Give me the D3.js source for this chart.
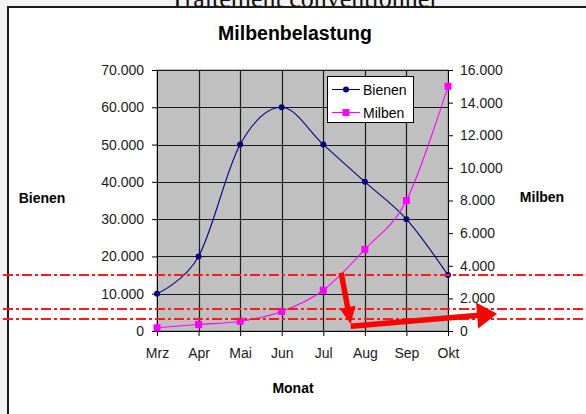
<!DOCTYPE html>
<html><head><meta charset="utf-8">
<script src="https://cdn.jsdelivr.net/npm/d3@7/dist/d3.min.js"></script>
<style>
html,body{margin:0;padding:0;background:#f3f3f3;overflow:hidden;}
svg{display:block;}
text{font-family:"Liberation Sans",Arial,sans-serif;}
</style></head>
<body>
<svg id="c" width="586" height="414"></svg>
<script>
const months = ["Mrz","Apr","Mai","Jun","Jul","Aug","Sep","Okt"];
const bienen = [10000,20000,50000,60000,50000,40000,30000,15000];
const milben = [200,400,600,1200,2500,5000,8000,15000];
const leftTicks = [0,10000,20000,30000,40000,50000,60000,70000];
const rightTicks = [0,2000,4000,6000,8000,10000,12000,14000,16000];
// annotation overlay (data units: category index, Bienen axis)
const refLines = [15000, 5900, 3200];
const arrow1 = [[4.43,15600],[4.66,1900]];
const arrow2 = [[4.66,1300],[8.18,4600]];

const svg = d3.select("#c");
const L=157, R=448, T=70, B=331;
const x = d3.scalePoint().domain(months).range([L,R]);
const yL = d3.scaleLinear().domain([0,70000]).range([B,T]);
const yR = d3.scaleLinear().domain([0,16000]).range([B,T]);
const xi = d3.scaleLinear().domain([0,7]).range([L,R]);
const fmt = v => d3.format(",")(v).replace(/,/g,".");

// cut-off heading behind frame
svg.append("text").attr("x",303).attr("y",7).attr("text-anchor","middle")
  .style("font-family","'Liberation Serif','Times New Roman',serif").style("font-size","26px")
  .attr("fill","#111").text("Traitement conventionnel");
// frame
svg.append("rect").attr("x",8).attr("y",7).attr("width",620).attr("height",440)
  .attr("fill","#fff").attr("stroke","#1a1a1a").attr("stroke-width",2);

// title
svg.append("text").attr("x",295).attr("y",40).attr("text-anchor","middle")
  .style("font-weight","bold").style("font-size","19.5px").attr("fill","#000").text("Milbenbelastung");

// plot area
svg.append("rect").attr("x",L).attr("y",T).attr("width",R-L).attr("height",B-T)
  .attr("fill","#c0c0c0").attr("stroke","#808080").attr("stroke-width",1);

// grid
const g = svg.append("g");
g.selectAll(".hg").data(leftTicks.slice(1)).join("line")
  .attr("x1",L).attr("x2",R).attr("y1",d=>Math.round(yL(d))+0.5).attr("y2",d=>Math.round(yL(d))+0.5)
  .attr("stroke","#1a1a1a").attr("stroke-width",1.2);
g.selectAll(".vg").data(months.slice(1,-1)).join("line")
  .attr("y1",T).attr("y2",B).attr("x1",d=>Math.round(x(d))+0.5).attr("x2",d=>Math.round(x(d))+0.5)
  .attr("stroke","#1a1a1a").attr("stroke-width",1.2);

// axes
const axL = svg.append("g").attr("transform",`translate(${L},0)`)
  .call(d3.axisLeft(yL).tickValues(leftTicks).tickFormat(fmt).tickSizeOuter(0).tickSize(5).tickPadding(8));
const axR = svg.append("g").attr("transform",`translate(${R},0)`)
  .call(d3.axisRight(yR).tickValues(rightTicks).tickFormat(fmt).tickSizeOuter(0).tickSize(5).tickPadding(7));
const axB = svg.append("g").attr("transform",`translate(0,${B})`)
  .call(d3.axisBottom(x).tickSizeOuter(0).tickSize(5).tickPadding(12));
[axL,axR,axB].forEach(a=>{
  a.selectAll("text").style("font-size","14px").attr("fill","#1a1a1a").style("font-family","'Liberation Sans',Arial,sans-serif");
  a.selectAll("line,path").attr("stroke","#000");
});

// axis titles
svg.append("text").attr("x",42).attr("y",203).attr("text-anchor","middle")
  .style("font-weight","bold").style("font-size","14px").text("Bienen");
svg.append("text").attr("x",542).attr("y",202).attr("text-anchor","middle")
  .style("font-weight","bold").style("font-size","14px").text("Milben");
svg.append("text").attr("x",293).attr("y",393).attr("text-anchor","middle")
  .style("font-weight","bold").style("font-size","14px").text("Monat");

// lines
const curve = d3.curveCardinal.tension(0);
const lineB = d3.line().x((d,i)=>x(months[i])).y(d=>yL(d)).curve(curve);
const lineM = d3.line().x((d,i)=>x(months[i])).y(d=>yR(d)).curve(curve);
svg.append("path").attr("d",lineB(bienen)).attr("fill","none").attr("stroke","#000080").attr("stroke-width",1.1);
svg.append("path").attr("d",lineM(milben)).attr("fill","none").attr("stroke","#ff00ff").attr("stroke-width",1.1);
svg.selectAll(".mb").data(bienen).join("circle")
  .attr("cx",(d,i)=>x(months[i])).attr("cy",d=>yL(d)).attr("r",3).attr("fill","#000080");
svg.selectAll(".mm").data(milben).join("rect")
  .attr("x",(d,i)=>x(months[i])-3.5).attr("y",d=>yR(d)-3.5).attr("width",7).attr("height",7).attr("fill","#ff00ff");

// legend
const lg = svg.append("g");
lg.append("rect").attr("x",327.5).attr("y",76.5).attr("width",86).attr("height",46)
  .attr("fill","#fff").attr("stroke","#000").attr("stroke-width",1);
[["Bienen","#000080","c"],["Milben","#ff00ff","s"]].forEach((s,i)=>{
  const yy = 89.5 + i*23;
  lg.append("line").attr("x1",332).attr("x2",360).attr("y1",yy).attr("y2",yy).attr("stroke",s[1]).attr("stroke-width",1.1);
  if(s[2]==="c") lg.append("circle").attr("cx",346).attr("cy",yy).attr("r",3).attr("fill",s[1]);
  else lg.append("rect").attr("x",342.5).attr("y",yy-3.5).attr("width",7).attr("height",7).attr("fill",s[1]);
  lg.append("text").attr("x",363).attr("y",yy+5).style("font-size","14px").attr("fill","#000").text(s[0]);
});

// red overlay
const ov = svg.append("g");
ov.selectAll(".rl").data(refLines).join("line")
  .attr("x1",3).attr("x2",586).attr("y1",d=>yL(d)).attr("y2",d=>yL(d))
  .attr("stroke","#ff1a1a").attr("stroke-width",2).attr("stroke-dasharray","10,3,3,3");
function arrow(a, hl, hw){
  const p0=[xi(a[0][0]),yL(a[0][1])], p1=[xi(a[1][0]),yL(a[1][1])];
  const dx=p1[0]-p0[0], dy=p1[1]-p0[1], len=Math.hypot(dx,dy), ux=dx/len, uy=dy/len;
  const bx=p1[0]-ux*hl, by=p1[1]-uy*hl;
  ov.append("line").attr("x1",p0[0]).attr("y1",p0[1]).attr("x2",bx+ux*2).attr("y2",by+uy*2)
    .attr("stroke","#ff0000").attr("stroke-width",5.5);
  ov.append("path").attr("d",`M${p1[0]},${p1[1]}L${bx-uy*hw},${by+ux*hw}L${bx+uy*hw},${by-ux*hw}Z`).attr("fill","#ff0000");
}
arrow(arrow1,17,8);
arrow(arrow2,20,13);
</script>
</body></html>
